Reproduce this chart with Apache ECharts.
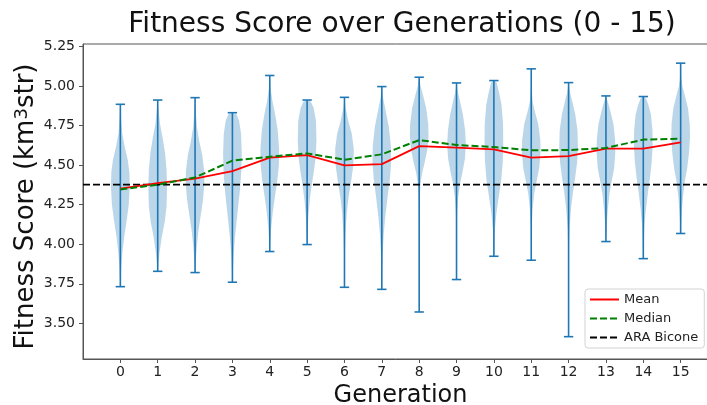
<!DOCTYPE html>
<html>
<head>
<meta charset="utf-8">
<script src="https://cdn.jsdelivr.net/npm/echarts@6/dist/echarts.min.js"></script>
<style>
html,body{margin:0;padding:0;background:#fff;}
#chart{width:707px;height:405px;}
</style>
</head>
<body>
<div id="chart"></div>
<script>
const GENERATIONS = [0,1,2,3,4,5,6,7,8,9,10,11,12,13,14,15];
const VIOLIN_MAX = [4.884,4.911,4.926,4.831,5.066,4.911,4.928,4.996,5.055,5.019,5.034,5.108,5.021,4.937,4.933,5.144];
const VIOLIN_MIN = [3.732,3.829,3.821,3.760,3.954,3.998,3.728,3.715,3.572,3.777,3.924,3.899,3.416,4.017,3.909,4.068];
const MEAN   = [4.351,4.386,4.414,4.462,4.547,4.563,4.498,4.506,4.620,4.610,4.599,4.547,4.557,4.604,4.604,4.644];
const MEDIAN = [4.346,4.376,4.422,4.528,4.553,4.574,4.534,4.568,4.658,4.627,4.614,4.593,4.595,4.608,4.661,4.667];
const ARA_BICONE = 4.377;
const Y_TICKS = [3.50,3.75,4.00,4.25,4.50,4.75,5.00,5.25];
// violin width profiles: [score, relative half-width 0..1], top to bottom (interior knots)
const VIOLIN_SHAPES = [
  [[4.80,0.08],[4.70,0.2],[4.62,0.45],[4.53,0.8],[4.45,0.97],[4.36,1],[4.25,0.9],[4.15,0.68],[4.05,0.42],[3.95,0.22],[3.85,0.1]],
  [[4.85,0.1],[4.76,0.25],[4.68,0.5],[4.58,0.78],[4.47,0.95],[4.36,1],[4.24,0.95],[4.14,0.75],[4.05,0.45],[3.95,0.2],[3.88,0.08]],
  [[4.84,0.08],[4.74,0.2],[4.65,0.45],[4.56,0.78],[4.46,0.98],[4.38,1],[4.28,0.85],[4.18,0.6],[4.08,0.35],[3.98,0.18],[3.90,0.08]],
  [[4.82,0.45],[4.78,0.72],[4.70,0.92],[4.58,1],[4.46,0.95],[4.35,0.82],[4.24,0.62],[4.13,0.42],[4.03,0.25],[3.93,0.13],[3.84,0.06]],
  [[4.98,0.1],[4.90,0.3],[4.82,0.58],[4.72,0.85],[4.60,1],[4.50,0.98],[4.40,0.8],[4.30,0.55],[4.20,0.32],[4.10,0.15],[4.02,0.06]],
  [[4.90,0.4],[4.86,0.7],[4.78,0.95],[4.66,1],[4.55,0.92],[4.46,0.72],[4.37,0.48],[4.28,0.28],[4.18,0.14],[4.08,0.06]],
  [[4.86,0.12],[4.78,0.4],[4.70,0.78],[4.60,1],[4.50,0.95],[4.40,0.72],[4.30,0.45],[4.20,0.25],[4.08,0.12],[3.95,0.05],[3.85,0.02]],
  [[4.92,0.15],[4.84,0.42],[4.74,0.75],[4.62,0.97],[4.52,1],[4.42,0.88],[4.30,0.62],[4.18,0.38],[4.06,0.2],[3.95,0.1],[3.84,0.04]],
  [[5.00,0.15],[4.94,0.42],[4.86,0.75],[4.76,0.97],[4.68,1],[4.60,0.88],[4.52,0.6],[4.45,0.32],[4.38,0.14],[4.28,0.05],[4.10,0.02]],
  [[4.96,0.15],[4.90,0.38],[4.82,0.68],[4.72,0.92],[4.63,1],[4.54,0.9],[4.46,0.65],[4.38,0.38],[4.30,0.18],[4.20,0.07],[4.05,0.02]],
  [[5.02,0.3],[4.96,0.55],[4.88,0.82],[4.76,0.98],[4.64,1],[4.52,0.95],[4.40,0.78],[4.30,0.52],[4.20,0.28],[4.10,0.12],[4.00,0.05]],
  [[4.98,0.05],[4.90,0.15],[4.84,0.38],[4.76,0.75],[4.66,0.97],[4.58,1],[4.48,0.85],[4.40,0.58],[4.32,0.32],[4.22,0.14],[4.10,0.05]],
  [[4.96,0.15],[4.90,0.4],[4.82,0.72],[4.72,0.95],[4.62,1],[4.52,0.92],[4.42,0.7],[4.32,0.45],[4.22,0.25],[4.10,0.1],[3.95,0.03],[3.70,0.01]],
  [[4.90,0.2],[4.84,0.48],[4.76,0.8],[4.66,0.98],[4.58,1],[4.48,0.88],[4.40,0.62],[4.32,0.38],[4.22,0.2],[4.12,0.08]],
  [[4.92,0.3],[4.88,0.55],[4.82,0.82],[4.72,0.98],[4.62,1],[4.52,0.9],[4.42,0.72],[4.32,0.48],[4.22,0.28],[4.12,0.13],[4.00,0.05]],
  [[5.06,0.05],[5.00,0.18],[4.94,0.45],[4.86,0.78],[4.76,0.97],[4.68,1],[4.58,0.9],[4.48,0.7],[4.40,0.45],[4.30,0.25],[4.20,0.12],[4.12,0.05]]
];

const FONT = 'DejaVu Sans';
const C0 = '#1f77b4';
const chart = echarts.init(document.getElementById('chart'));

const violinData = GENERATIONS.map((g, i) => [g, VIOLIN_MIN[i], VIOLIN_MAX[i], i]);

function renderViolin(params, api) {
  const g = api.value(0), lo = api.value(1), hi = api.value(2), idx = api.value(3);
  const knots = [[hi, 0]].concat(VIOLIN_SHAPES[idx]).concat([[lo, 0]]);
  const half = 0.25;
  const left = knots.map(k => api.coord([g - k[1] * half, k[0]]));
  const right = knots.slice().reverse().map(k => api.coord([g + k[1] * half, k[0]]));
  const pts = left.concat(right.slice(1, right.length - 1));
  const top = api.coord([g, hi]), bot = api.coord([g, lo]);
  const capL = api.coord([g - 0.125, hi])[0], capR = api.coord([g + 0.125, hi])[0];
  const lineStyle = { stroke: C0, lineWidth: 1.6 };
  return {
    type: 'group',
    children: [
      { type: 'polygon', shape: { points: pts }, style: { fill: 'rgba(31,119,180,0.3)' } },
      { type: 'line', shape: { x1: top[0], y1: top[1], x2: bot[0], y2: bot[1] }, style: lineStyle },
      { type: 'line', shape: { x1: capL, y1: top[1], x2: capR, y2: top[1] }, style: lineStyle },
      { type: 'line', shape: { x1: capL, y1: bot[1], x2: capR, y2: bot[1] }, style: lineStyle }
    ]
  };
}

const option = {
  animation: false,
  backgroundColor: '#fff',
  title: {
    text: 'Fitness Score over Generations (0 - 15)',
    left: 397, top: 6, textAlign: 'center',
    textStyle: { fontFamily: FONT, fontSize: 28, fontWeight: 'normal', color: '#111' }
  },
  grid: { left: 83, right: -11, top: 44, bottom: 46, show: true, borderColor: '#555', borderWidth: 1, containLabel: false, outerBoundsMode: 'none' },
  legend: {
    orient: 'vertical', left: 585, top: 289,
    data: ['Mean', 'Median', 'ARA Bicone'],
    itemWidth: 29, itemHeight: 14, itemGap: 6,
    padding: [4, 6, 4, 4],
    itemStyle: { opacity: 0 },
    backgroundColor: 'rgba(255,255,255,0.8)', borderColor: '#d3d3d3', borderWidth: 1, borderRadius: 3,
    textStyle: { fontFamily: FONT, fontSize: 13, color: '#222' }
  },
  xAxis: {
    type: 'value', min: -1, max: 16,
    name: 'Generation', nameLocation: 'middle', nameGap: 25, nameMoveOverlap: false,
    nameTextStyle: { fontFamily: FONT, fontSize: 24, color: '#111' },
    axisLine: { show: true, onZero: false, lineStyle: { color: '#555', width: 1 } },
    axisTick: { show: true, length: 4, customValues: GENERATIONS, lineStyle: { color: '#555' } },
    axisLabel: { customValues: GENERATIONS, fontFamily: FONT, fontSize: 14, color: '#222', margin: 6 },
    splitLine: { show: false }
  },
  yAxis: {
    type: 'value', min: 3.275, max: 5.265,
    name: 'Fitness Score (km{sup|3}str)', nameLocation: 'middle', nameGap: 44, nameRotate: 90, nameMoveOverlap: false,
    nameTextStyle: { fontFamily: FONT, fontSize: 26, color: '#111', padding: [0, 10, 0, 0],
      rich: { sup: { fontFamily: FONT, fontSize: 18, color: '#111', verticalAlign: 'top', lineHeight: 18 } } },
    axisLine: { show: true, onZero: false, lineStyle: { color: '#555', width: 1 } },
    axisTick: { show: true, length: 4, customValues: Y_TICKS, lineStyle: { color: '#555' } },
    axisLabel: { customValues: Y_TICKS, formatter: v => v.toFixed(2), fontFamily: FONT, fontSize: 14, color: '#222', margin: 8 },
    splitLine: { show: false }
  },
  series: [
    { type: 'custom', name: 'violins', data: violinData, renderItem: renderViolin, clip: true, z: 1,
      encode: { x: 0, y: [1, 2] } },
    { type: 'line', name: 'Mean', data: GENERATIONS.map((g, i) => [g, MEAN[i]]), symbol: 'none', z: 3,
      lineStyle: { color: 'red', width: 1.8 }, itemStyle: { color: 'red' } },
    { type: 'line', name: 'Median', data: GENERATIONS.map((g, i) => [g, MEDIAN[i]]), symbol: 'none', z: 4,
      lineStyle: { color: 'green', width: 2, type: [7, 3] }, itemStyle: { color: 'green' } },
    { type: 'line', name: 'ARA Bicone', data: [[-1, ARA_BICONE], [16, ARA_BICONE]], symbol: 'none', z: 2,
      lineStyle: { color: 'black', width: 1.7, type: [7, 3] }, itemStyle: { color: 'black' } }
  ]
};
chart.setOption(option);
</script>
</body>
</html>
